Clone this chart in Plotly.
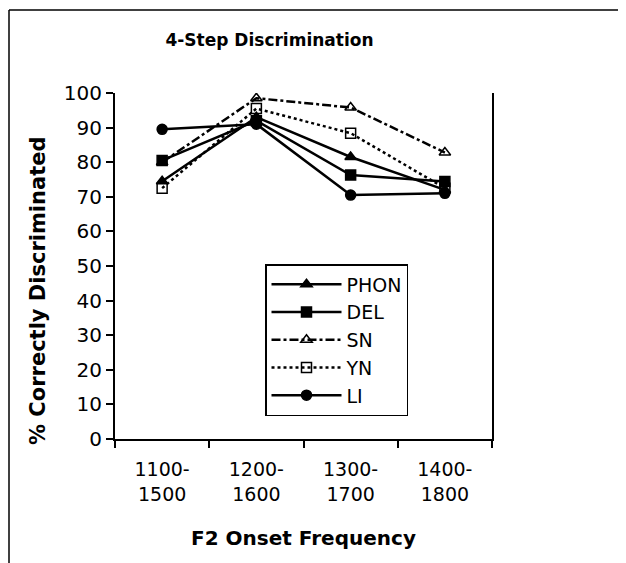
import plotly.graph_objects as go

categories = ["1100-<br>1500", "1200-<br>1600", "1300-<br>1700", "1400-<br>1800"]
phon = [74.5, 93.0, 81.5, 72.0]
dele = [80.5, 92.0, 76.3, 74.4]
sn = [80.0, 98.5, 95.8, 82.8]
yn = [72.5, 95.5, 88.4, 72.5]
li = [89.5, 91.0, 70.5, 71.0]

series = [
    ("PHON", phon, "triangle-up", "solid"),
    ("DEL", dele, "square", "solid"),
    ("SN", sn, "triangle-up-open", "dashdot"),
    ("YN", yn, "square-open", "dot"),
    ("LI", li, "circle", "solid"),
]

fig = go.Figure()
for name, vals, sym, dash in series:
    fig.add_trace(go.Scatter(
        x=categories, y=vals, name=name, mode="lines+markers",
        line=dict(color="black", width=2.5, dash=dash),
        marker=dict(symbol=sym, size=10, color="black",
                    line=dict(color="black", width=1.5)),
    ))

# page body adds an 8px offset; figure coords = screen coords - 8
OFF = 8
W, H = 626, 563
L, R, T, B = 115 - OFF, W - (492 - OFF), 93 - OFF, H - (439 - OFF)
pw, ph = W - L - R, H - T - B

def px(x):
    return (x - OFF - L) / pw

def py(y):
    return (H - B - (y - OFF)) / ph

FONT = "DejaVu Sans"

fig.update_layout(
    width=W, height=H,
    margin=dict(l=L, r=R, t=T, b=B, pad=0),
    paper_bgcolor="white", plot_bgcolor="white",
    font=dict(family=FONT, size=18, color="black"),
    title=dict(text="<b>4-Step Discrimination</b>", x=(269.5 - OFF) / W,
               xanchor="center", y=1 - (40 - OFF) / H, yanchor="middle",
               font=dict(size=17)),
    xaxis=dict(type="category", tickson="boundaries", ticks="outside",
               ticklen=7, tickwidth=1.5, tickcolor="black",
               showline=True, linecolor="black", linewidth=2,
               showgrid=False, range=[-0.5, 3.5], automargin=False,
               tickfont=dict(size=19), ticklabelstandoff=12,
               title=dict(text="<b>F2 Onset Frequency</b>", standoff=27,
                          font=dict(size=20))),
    yaxis=dict(range=[0, 100], dtick=10, ticks="outside", ticklen=7,
               tickwidth=1.5, tickcolor="black",
               showline=True, linecolor="black", linewidth=2, mirror=True,
               showgrid=False, zeroline=False, automargin=False,
               tickfont=dict(size=20)),
    legend=dict(x=px(265), y=py(264), xanchor="left", yanchor="top",
                bgcolor="white", bordercolor="black", borderwidth=1.5,
                font=dict(size=19), itemwidth=70),
    showlegend=True,
    annotations=[
        dict(text="<b>% Correctly Discriminated</b>", textangle=-90,
             xref="paper", yref="paper", x=px(38), y=py(291),
             xanchor="center", yanchor="middle", showarrow=False,
             font=dict(size=21)),
    ],
    shapes=[
        dict(type="line", xref="paper", yref="paper",
             x0=px(9), x1=px(9), y0=py(10), y1=py(575),
             line=dict(color="black", width=1.5)),
        dict(type="line", xref="paper", yref="paper",
             x0=px(9), x1=px(640), y0=py(10), y1=py(10),
             line=dict(color="black", width=1.5)),
    ],
)

fig.write_html("out.html")
